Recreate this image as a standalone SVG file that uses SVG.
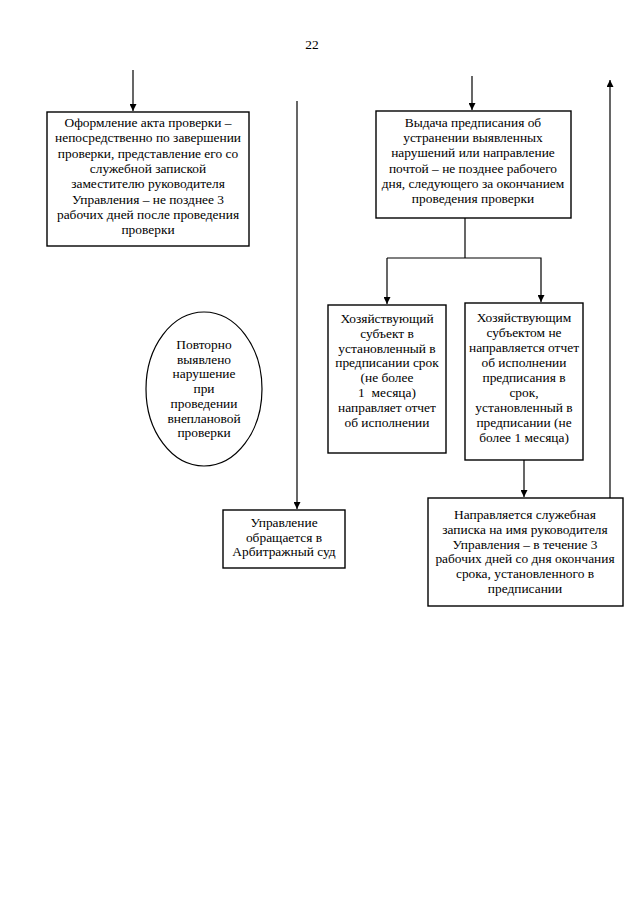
<svg xmlns="http://www.w3.org/2000/svg" width="640" height="905" viewBox="0 0 640 905">
<defs>
<marker id="ah" viewBox="0 0 10 10" refX="10" refY="5" markerWidth="7" markerHeight="7" orient="auto" markerUnits="userSpaceOnUse">
<path d="M0,0 L10,5 L0,10 z" fill="#000"/>
</marker>
<style>
.box{fill:#fff;stroke:#000;stroke-width:1.4}
.ln{fill:none;stroke:#000;stroke-width:1.2}
text{font-family:"Liberation Serif","Times New Roman",serif;font-size:13.4px;fill:#000;text-anchor:middle}
</style>
</defs>
<rect width="640" height="905" fill="#fff"/>
<text x="312" y="49" font-size="15">22</text>
<g id="connectors">
<line class="ln" x1="133" y1="70" x2="133" y2="111" marker-end="url(#ah)"/>
<line class="ln" x1="297" y1="101" x2="297" y2="509" marker-end="url(#ah)"/>
<line class="ln" x1="472" y1="76" x2="472" y2="110" marker-end="url(#ah)"/>
<line class="ln" x1="465" y1="218" x2="465" y2="258"/>
<polyline class="ln" points="387,258 541,258 541,302" marker-end="url(#ah)"/>
<line class="ln" x1="387" y1="258" x2="387" y2="304" marker-end="url(#ah)"/>
<line class="ln" x1="524" y1="460" x2="524" y2="497" marker-end="url(#ah)"/>
<line class="ln" x1="610" y1="499" x2="610" y2="80" marker-end="url(#ah)"/>
</g>
<g id="node-akt">
<rect class="box" x="47" y="112" width="202" height="134"/>
<text x="148" y="127">Оформление акта проверки –</text>
<text x="148" y="142.3">непосредственно по завершении</text>
<text x="148" y="157.6">проверки, представление его со</text>
<text x="148" y="172.9">служебной запиской</text>
<text x="148" y="188.2">заместителю руководителя</text>
<text x="148" y="203.5">Управления – не позднее 3</text>
<text x="148" y="218.8">рабочих дней после проведения</text>
<text x="148" y="234.1">проверки</text>
</g>
<g id="node-vydacha">
<rect class="box" x="376" y="111" width="195" height="107"/>
<text x="473" y="127">Выдача предписания об</text>
<text x="473" y="142.2">устранении выявленных</text>
<text x="473" y="157.4">нарушений или направление</text>
<text x="473" y="172.6">почтой – не позднее рабочего</text>
<text x="473" y="187.8">дня, следующего за окончанием</text>
<text x="473" y="203">проведения проверки</text>
</g>
<g id="node-otchet">
<rect class="box" x="328" y="305" width="118" height="148"/>
<text x="387" y="323">Хозяйствующий</text>
<text x="387" y="337.8">субъект в</text>
<text x="387" y="352.6">установленный в</text>
<text x="387" y="367.4">предписании срок</text>
<text x="387" y="382.2">(не более</text>
<text x="387" y="397">1&#160; месяца)</text>
<text x="387" y="411.8">направляет отчет</text>
<text x="387" y="426.6">об исполнении</text>
</g>
<g id="node-ne-otchet">
<rect class="box" x="465" y="303" width="118" height="157"/>
<text x="524" y="322">Хозяйствующим</text>
<text x="524" y="337">субъектом не</text>
<text x="524" y="352">направляется отчет</text>
<text x="524" y="367">об исполнении</text>
<text x="524" y="382">предписания в</text>
<text x="524" y="397">срок,</text>
<text x="524" y="412">установленный в</text>
<text x="524" y="427">предписании (не</text>
<text x="524" y="442">более 1 месяца)</text>
</g>
<g id="node-povtorno">
<ellipse class="box" cx="204" cy="389" rx="58" ry="77" style="stroke-width:1.2"/>
<text x="204" y="349">Повторно</text>
<text x="204" y="363.7">выявлено</text>
<text x="204" y="378.4">нарушение</text>
<text x="204" y="393.1">при</text>
<text x="204" y="407.8">проведении</text>
<text x="204" y="422.5">внеплановой</text>
<text x="204" y="437.2">проверки</text>
</g>
<g id="node-sud">
<rect class="box" x="223" y="510" width="122" height="58"/>
<text x="284" y="527">Управление</text>
<text x="284" y="541.5">обращается в</text>
<text x="284" y="556">Арбитражный суд</text>
</g>
<g id="node-zapiska">
<rect class="box" x="428" y="498" width="195" height="108"/>
<text x="525" y="519">Направляется служебная</text>
<text x="525" y="533.8">записка на имя руководителя</text>
<text x="525" y="548.6">Управления – в течение 3</text>
<text x="525" y="563.4">рабочих дней со дня окончания</text>
<text x="525" y="578.2">срока, установленного в</text>
<text x="525" y="593">предписании</text>
</g>
</svg>
